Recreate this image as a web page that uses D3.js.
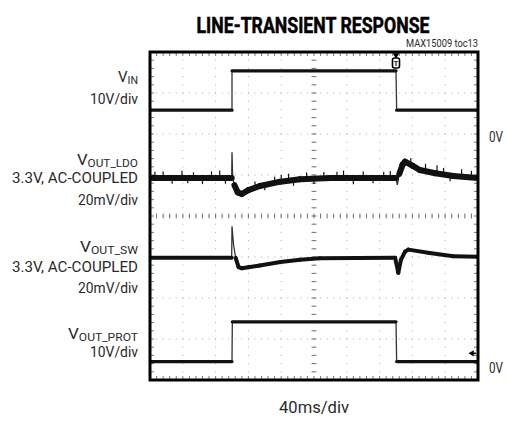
<!DOCTYPE html>
<html>
<head>
<meta charset="utf-8">
<script src="https://cdn.jsdelivr.net/npm/d3@7"></script>
<style>
  body { margin: 0; background: #fff; }
  svg text { font-family: Roboto, "Liberation Sans", sans-serif; fill: #2a2a2a; }
  .title { font-weight: bold; fill: #000; stroke: #000; stroke-width: 0.5px; }
</style>
</head>
<body>
<script>
var w = 507;
var h = 423;

// time axis: 40ms/div, 10 divisions
var timeDomain = [0, 400];
var divDomain = [-4, 4];

// VIN, 10V/div (volts)
var vinT = [0, 100, 100, 300, 300.8, 400];
var vinV = [6.3, 6.3, 15.9, 15.9, 6.3, 6.3];

// VOUT_LDO, 20mV/div AC-coupled (mV)
var ldoT  = [0, 99.6, 100, 100.8, 103, 107, 112, 120, 134, 159, 183, 220, 300, 301.6, 304, 308, 311, 320, 329, 348, 370, 400];
var ldoMv = [0, 0, 12.5, 0, -3.5, -7, -7.8, -5.9, -3.9, -1.8, -0.6, 0, 0, -3.4, 2, 6.5, 8, 6, 3.9, 2.3, 1, 0];

// noise spikes on VOUT_LDO (time ms, excursion mV, + up / - down)
var ldoSpikeT  = [6, 16, 27, 39, 46, 53, 64, 75, 85, 92, 128, 140, 152, 160, 169, 175, 191, 200, 212, 228, 236, 248, 260, 272, 285, 293, 318, 336, 350, 358, 366, 380, 392];
var ldoSpikeMv = [3, 3.2, -2.8, 3.5, -2.6, 2.8, -3, 3.2, 3.6, -2.8, 3, -2.6, 3, 3.2, 3.4, -2.8, 3.2, -2.6, 3, 3, 3.6, -3, 3.2, -2.6, 3, 3.4, 3.2, 3.6, 4, 3.2, -2.8, 3.6, 3.2];

// VOUT_SW, 20mV/div AC-coupled (mV)
var swT  = [0, 99.6, 100, 102, 104.5, 108, 112, 120, 134, 159, 183, 207, 299, 302.8, 306, 311, 315, 341, 370, 400];
var swMv = [0, 0, 15.4, 6, 0, -4.5, -5.1, -4.6, -3.7, -2, -0.9, -0.2, 0, -7.3, -1, 3, 4, 2.4, 0.8, 0.5];

// VOUT_PROT, 10V/div (volts)
var protT = [0, 100, 100.4, 300, 300.8, 400];
var protV = [1.3, 1.3, 11, 11, 1.3, 1.3];

// channel settings: units per div and zero position (div from center)
var channels = [
  {name: "IN",       lines: ["10V/div"],                      perDiv: 10, zero: 1.95,  t: vinT,  v: vinV,  width: 3.2},
  {name: "OUT_LDO",  lines: ["3.3V, AC-COUPLED", "20mV/div"], perDiv: 20, zero: 0.927, t: ldoT,  v: ldoMv, width: 6},
  {name: "OUT_SW",   lines: ["3.3V, AC-COUPLED", "20mV/div"], perDiv: 20, zero: -1.02, t: swT,   v: swMv,  width: 4},
  {name: "OUT_PROT", lines: ["10V/div"],                      perDiv: 10, zero: -3.68, t: protT, v: protV, width: 3.2}
];

var labelBase = [[82, 104], [165, 183, 205], [252, 272, 293], [339, 357]];
var labelWidth = [[20, 48], [61, 126, 60], [58, 126, 60], [70, 48]];

var xScale = d3.scaleLinear().domain(timeDomain).range([150, 478]);
var yScale = d3.scaleLinear().domain(divDomain).range([380, 52]);

var svg = d3.select("body")
            .append("svg")
            .attr("width", w)
            .attr("height", h);

svg.append("clipPath")
   .attr("id", "plotClip")
   .append("rect")
   .attr("x", xScale(0))
   .attr("y", yScale(4))
   .attr("width", xScale(400) - xScale(0))
   .attr("height", yScale(-4) - yScale(4));

// dotted grid
var minorX = d3.range(0, 401, 8);
var minorY = d3.range(-4, 4.01, 0.2);
var gridX = d3.range(40, 400, 40);
var gridY = d3.range(-3, 4, 1);

gridX.forEach(function(t) {
  svg.selectAll(null)
     .data(minorY)
     .enter()
     .append("rect")
     .attr("x", xScale(t) - 0.5)
     .attr("y", function(d) { return yScale(d) - 0.5; })
     .attr("width", 1)
     .attr("height", 1)
     .attr("fill", t == 200 ? "#777" : "#aaa");
});

gridY.forEach(function(dv) {
  svg.selectAll(null)
     .data(minorX)
     .enter()
     .append("rect")
     .attr("x", function(d) { return xScale(d) - 0.5; })
     .attr("y", yScale(dv) - 0.5)
     .attr("width", 1)
     .attr("height", 1)
     .attr("fill", dv == 0 ? "#777" : "#aaa");
});

// tick marks on center cross and frame
function hTicks(y0, y1) {
  svg.selectAll(null)
     .data(minorX)
     .enter()
     .append("line")
     .attr("x1", function(d) { return xScale(d); })
     .attr("x2", function(d) { return xScale(d); })
     .attr("y1", y0)
     .attr("y2", y1)
     .attr("stroke", "#777");
}
function vTicks(x0, x1) {
  svg.selectAll(null)
     .data(minorY)
     .enter()
     .append("line")
     .attr("x1", x0)
     .attr("x2", x1)
     .attr("y1", function(d) { return yScale(d); })
     .attr("y2", function(d) { return yScale(d); })
     .attr("stroke", "#777");
}
hTicks(yScale(0) - 2.5, yScale(0) + 2.5);
hTicks(yScale(4), yScale(4) + 4);
hTicks(yScale(-4), yScale(-4) - 4);
vTicks(xScale(200) - 2.5, xScale(200) + 2.5);
vTicks(xScale(0), xScale(0) + 4);
vTicks(xScale(400), xScale(400) - 4);

// traces: fast edges drawn thin, settled parts thick
var traces = svg.append("g").attr("clip-path", "url(#plotClip)");

channels.forEach(function(ch) {
  var toY = function(v) { return yScale(ch.zero + v / ch.perDiv); };
  var pts = ch.t.map(function(t, j) { return [t, ch.v[j]]; });
  var line = d3.line()
               .x(function(d) { return xScale(d[0]); })
               .y(function(d) { return toY(d[1]); });
  traces.append("path")
     .datum(pts)
     .attr("d", line)
     .attr("fill", "none")
     .attr("stroke", "#333")
     .attr("stroke-width", 1.3);
  var segs = d3.pairs(pts).filter(function(p) { return p[1][0] - p[0][0] > 2.6; });
  traces.selectAll(null)
     .data(segs)
     .enter()
     .append("path")
     .attr("d", line)
     .attr("fill", "none")
     .attr("stroke", "#111")
     .attr("stroke-width", ch.width)
     .attr("stroke-linecap", "round");
});

// LDO noise spikes
var ldo = channels[1];
var ldoAt = d3.scaleLinear().domain(ldoT).range(ldoMv);
traces.selectAll("spikes")
   .data(ldoSpikeT)
   .enter()
   .append("line")
   .attr("x1", function(d) { return xScale(d); })
   .attr("x2", function(d) { return xScale(d); })
   .attr("y1", function(d, i) { return yScale(ldo.zero + (ldoAt(d) + ldoSpikeMv[i]) / ldo.perDiv); })
   .attr("y2", function(d) { return yScale(ldo.zero + ldoAt(d) / ldo.perDiv); })
   .attr("stroke", "#111")
   .attr("stroke-width", 1.2);

// frame
svg.append("rect")
   .attr("x", xScale(0))
   .attr("y", yScale(4))
   .attr("width", xScale(400) - xScale(0))
   .attr("height", yScale(-4) - yScale(4))
   .attr("fill", "none")
   .attr("stroke", "#000")
   .attr("stroke-width", 3);

// trigger marker
svg.append("path")
   .attr("d", d3.symbol().type(d3.symbolTriangle).size(18))
   .attr("transform", "translate(" + xScale(300) + "," + (yScale(4) + 3) + ") rotate(180)")
   .attr("fill", "#000");
svg.append("rect")
   .attr("x", xScale(300) - 3.5)
   .attr("y", yScale(4) + 6)
   .attr("width", 7)
   .attr("height", 10)
   .attr("rx", 2)
   .attr("fill", "#fff")
   .attr("stroke", "#000")
   .attr("stroke-width", 1.6);
svg.append("text")
   .attr("x", xScale(300))
   .attr("y", yScale(4) + 14)
   .attr("text-anchor", "middle")
   .style("font-size", "8px")
   .style("font-weight", "bold")
   .text("T");

// ground marker
svg.append("path")
   .attr("d", d3.symbol().type(d3.symbolTriangle).size(16))
   .attr("transform", "translate(" + (xScale(400) - 6) + "," + yScale(-3.35) + ") rotate(-90)")
   .attr("fill", "#000");
svg.append("line")
   .attr("x1", xScale(400) - 6)
   .attr("x2", xScale(400) - 2)
   .attr("y1", yScale(-3.35))
   .attr("y2", yScale(-3.35))
   .attr("stroke", "#000")
   .attr("stroke-width", 1.5);

// title and notes
svg.append("text")
   .attr("class", "title")
   .attr("x", 313)
   .attr("y", 33)
   .attr("text-anchor", "middle")
   .attr("textLength", 233)
   .attr("lengthAdjust", "spacingAndGlyphs")
   .style("font-size", "22px")
   .text("LINE-TRANSIENT RESPONSE");

svg.append("text")
   .attr("x", 478)
   .attr("y", 47)
   .attr("text-anchor", "end")
   .attr("textLength", 72)
   .attr("lengthAdjust", "spacingAndGlyphs")
   .style("font-size", "10px")
   .text("MAX15009 toc13");

svg.append("text")
   .attr("x", 314)
   .attr("y", 413)
   .attr("text-anchor", "middle")
   .attr("textLength", 70)
   .attr("lengthAdjust", "spacingAndGlyphs")
   .style("font-size", "17px")
   .text("40ms/div");

[142, 373].forEach(function(yy) {
  svg.append("text")
     .attr("x", 489)
     .attr("y", yy)
     .attr("textLength", 14)
     .attr("lengthAdjust", "spacingAndGlyphs")
     .style("font-size", "15px")
     .text("0V");
});

// channel labels
channels.forEach(function(ch, i) {
  var base = labelBase[i];
  var wid = labelWidth[i];
  var t = svg.append("text")
             .attr("x", 138)
             .attr("y", base[0])
             .attr("text-anchor", "end")
             .attr("textLength", wid[0])
             .attr("lengthAdjust", "spacingAndGlyphs")
             .style("font-size", "15.5px");
  t.append("tspan").text("V");
  t.append("tspan").attr("dy", 1.5).style("font-size", "11px").text(ch.name);
  ch.lines.forEach(function(s, j) {
    svg.append("text")
       .attr("x", 138)
       .attr("y", base[j + 1])
       .attr("text-anchor", "end")
       .attr("textLength", wid[j + 1])
       .attr("lengthAdjust", "spacingAndGlyphs")
       .style("font-size", "15px")
       .text(s);
  });
});
</script>
</body>
</html>
